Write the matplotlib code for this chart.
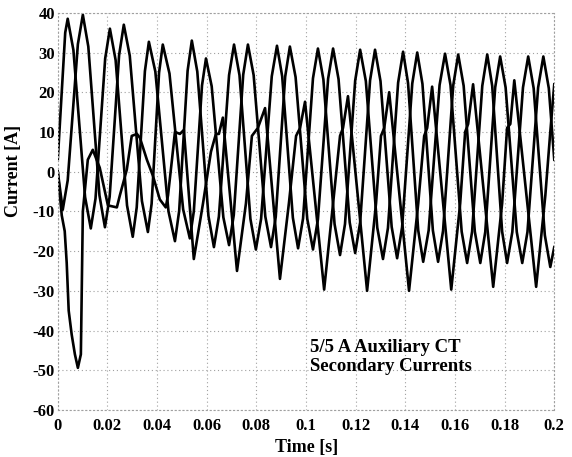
import matplotlib
matplotlib.use("Agg")
import matplotlib.pyplot as plt

# Phase currents (time in s, current in A)
t_a = [0.0000, 0.0030, 0.0040, 0.0063, 0.0110, 0.0133, 0.0152, 0.0191, 0.0210, 0.0233,
       0.0279, 0.0302, 0.0318, 0.0351, 0.0367, 0.0393, 0.0446, 0.0472, 0.0489, 0.0523,
       0.0540, 0.0562, 0.0607, 0.0629, 0.0649, 0.0690, 0.0710, 0.0732, 0.0776, 0.0798,
       0.0819, 0.0862, 0.0883, 0.0904, 0.0947, 0.0968, 0.0988, 0.1028, 0.1048, 0.1070,
       0.1115, 0.1137, 0.1157, 0.1198, 0.1218, 0.1241, 0.1287, 0.1310, 0.1330, 0.1371,
       0.1391, 0.1411, 0.1452, 0.1472, 0.1494, 0.1538, 0.1560, 0.1582, 0.1627, 0.1649,
       0.1669, 0.1710, 0.1730, 0.1750, 0.1790, 0.1810, 0.1831, 0.1874, 0.1895, 0.1917,
       0.1962, 0.1984, 0.2000]
i_a = [3, 35, 38.5, 30.6, -6.4, -14.3, -6.8, 28.5, 36, 28.1,
       -8.5, -16.4, -9.0, 25.3, 32.7, 25.2, -10.0, -17.5, -9.9, 25.4,
       33, 25.2, -11.2, -19, -11.3, 24.3, 32, 24.3, -11.9, -19.6,
       -11.9, 24.0, 31.7, 24.0, -11.6, -19.3, -11.8, 23.5, 31, 23.2,
       -13.2, -21, -13.2, 22.9, 30.7, 22.8, -14.1, -22, -14.2, 22.4,
       30.2, 22.3, -14.8, -22.7, -14.8, 21.8, 29.7, 21.8, -15.1, -23,
       -15.1, 21.6, 29.5, 21.6, -15.1, -23, -15.2, 21.2, 29, 21,
       -16, -24, -19]

t_b = [0.0000, 0.0020, 0.0040, 0.0081, 0.0101, 0.0123, 0.0168, 0.0190, 0.0209, 0.0247,
       0.0266, 0.0290, 0.0339, 0.0363, 0.0378, 0.0408, 0.0423, 0.0450, 0.0505, 0.0532,
       0.0548, 0.0581, 0.0597, 0.0620, 0.0667, 0.0690, 0.0709, 0.0747, 0.0766, 0.0789,
       0.0836, 0.0859, 0.0878, 0.0916, 0.0935, 0.0958, 0.1005, 0.1028, 0.1048, 0.1089,
       0.1109, 0.1131, 0.1176, 0.1198, 0.1218, 0.1258, 0.1278, 0.1300, 0.1345, 0.1367,
       0.1387, 0.1428, 0.1448, 0.1469, 0.1511, 0.1532, 0.1552, 0.1593, 0.1613, 0.1635,
       0.1680, 0.1702, 0.1722, 0.1762, 0.1782, 0.1804, 0.1849, 0.1871, 0.1892, 0.1935,
       0.1956, 0.1978, 0.2000]
i_b = [0, -9.6, -2.2, 32.1, 39.5, 31.5, -6, -14, -6.3, 29.3,
       37, 29.2, -7.4, -15.2, -8.1, 24.9, 32, 24.7, -9.5, -16.8,
       -10, 21.7, 28.5, 21.5, -11.5, -18.5, -10.9, 24.4, 32, 24.3,
       -11.3, -19, -11.4, 23.9, 31.5, 23.8, -11.9, -19.6, -12, 23.4,
       31, 23.3, -12.8, -20.5, -12.8, 23, 30.7, 22.8, -13.9, -21.8,
       -14, 22.2, 30, 22.1, -14.8, -22.7, -14.9, 21.7, 29.5, 21.6,
       -15.1, -23, -15.2, 21.2, 29, 21.2, -15.2, -23, -15.2, 21.2,
       29, 21, 3]

t_c = [0.0000, 0.0016, 0.0028, 0.0036, 0.0044, 0.0056, 0.0069, 0.0081, 0.0093, 0.0101,
       0.0121, 0.0141, 0.0169, 0.0202, 0.0238, 0.0250, 0.0278, 0.0298, 0.0319, 0.0331,
       0.0359, 0.0383, 0.0411, 0.0435, 0.0444, 0.0460, 0.0472, 0.0492, 0.0508, 0.0548,
       0.0585, 0.0617, 0.0637, 0.0649, 0.0665, 0.0722, 0.0758, 0.0782, 0.0806, 0.0835,
       0.0895, 0.0931, 0.0960, 0.0976, 0.0996, 0.1073, 0.1109, 0.1137, 0.1149, 0.1169,
       0.1246, 0.1282, 0.1302, 0.1315, 0.1335, 0.1415, 0.1452, 0.1476, 0.1488, 0.1508,
       0.1585, 0.1621, 0.1641, 0.1653, 0.1673, 0.1754, 0.1790, 0.1810, 0.1823, 0.1839,
       0.1927, 0.1964, 0.1984, 0.2000]
i_c = [0, -11, -15, -23, -35, -41, -46, -49.4, -46, -10,
       3, 5.5, 1, -8.5, -9, -6, 0.5, 9, 9.5, 8.5,
       3, -1, -7, -9, -6, 3, 10, 9.5, 10.5, -22,
       -8, 5, 9.5, 9.5, 13.6, -25, -8, 9, 11, 16,
       -27, -8, 9, 11, 17.6, -29.7, -8, 9, 11, 19,
       -30, -8, 9, 11, 20, -30, -8, 9, 11, 21.4,
       -29.7, -8, 10, 12, 22, -29, -8, 11, 12, 23,
       -29, -6, 10, 22]

x_ticks = [0, 0.02, 0.04, 0.06, 0.08, 0.1, 0.12, 0.14, 0.16, 0.18, 0.2]
x_labels = ["0", "0.02", "0.04", "0.06", "0.08", "0.1", "0.12", "0.14", "0.16", "0.18", "0.2"]
y_ticks = [-60, -50, -40, -30, -20, -10, 0, 10, 20, 30, 40]

plt.rcParams['font.family'] = ['Liberation Serif', 'DejaVu Serif']
plt.rcParams['font.weight'] = 'bold'
plt.rcParams['axes.unicode_minus'] = False

fig = plt.figure(figsize=(5.72, 4.57), dpi=100)
ax = fig.add_axes([0.101, 0.103, 0.868, 0.869])

for t, i in [(t_a, i_a), (t_b, i_b), (t_c, i_c)]:
    ax.plot(t, i, color='black', linewidth=1.9, solid_joinstyle='round')

ax.set_xlim(0, 0.2)
ax.set_ylim(-60, 40)
ax.set_xticks(x_ticks)
ax.set_xticklabels(x_labels)
ax.set_yticks(y_ticks)
ax.tick_params(length=0, labelsize=12)
ax.tick_params(axis='x', pad=6)
ax.tick_params(axis='y', pad=2)
for lbl in ax.get_xticklabels() + ax.get_yticklabels():
    lbl.set_fontweight('bold')

ax.grid(True, color='#a0a0a0', linestyle=(0, (1, 2.5)), linewidth=0.8)
for side in ax.spines.values():
    side.set_color('#a0a0a0')
    side.set_linestyle((0, (1, 2.5)))
    side.set_linewidth(0.8)

ax.set_xlabel('Time [s]', fontsize=13, fontweight='bold')
ax.set_ylabel('Current [A]', fontsize=13, fontweight='bold')
ax.xaxis.set_label_coords(0.502, -0.073)
ax.yaxis.set_label_coords(-0.073, 0.603)

ax.text(0.1015, -46.7, '5/5 A Auxiliary CT\nSecondary Currents', fontsize=13.5,
        fontweight='bold', va='center', ha='left', linespacing=1.12)

fig.savefig('out.png', dpi=100)
